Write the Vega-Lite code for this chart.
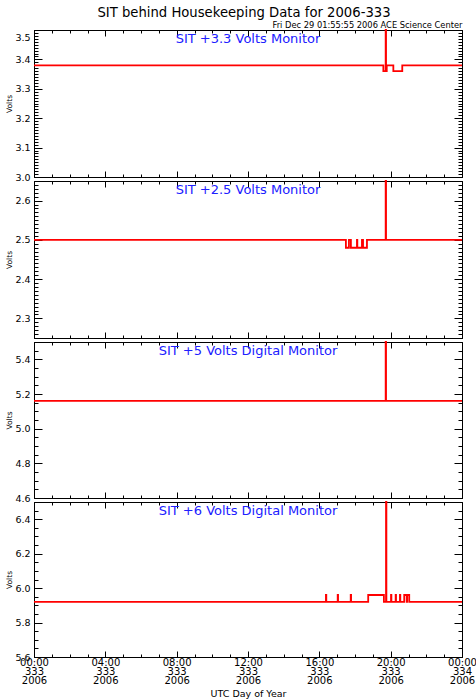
{
  "$schema": "https://vega.github.io/schema/vega-lite/v6.json",
  "background": "white",
  "datasets": {
    "volts": [
      {"p":1,"i":1,"t":0,"v":3.38},{"p":1,"i":2,"t":19.59,"v":3.38},{"p":1,"i":3,"t":19.59,"v":3.36},{"p":1,"i":4,"t":19.72,"v":3.36},{"p":1,"i":5,"t":19.72,"v":3.5},{"p":1,"i":6,"t":19.74,"v":3.5},{"p":1,"i":7,"t":19.74,"v":3.36},{"p":1,"i":8,"t":19.78,"v":3.36},{"p":1,"i":9,"t":19.78,"v":3.38},{"p":1,"i":10,"t":20.15,"v":3.38},{"p":1,"i":11,"t":20.15,"v":3.36},{"p":1,"i":12,"t":20.65,"v":3.36},{"p":1,"i":13,"t":20.65,"v":3.38},{"p":1,"i":14,"t":24,"v":3.38},
      {"p":2,"i":1,"t":0,"v":2.5},{"p":2,"i":2,"t":17.49,"v":2.5},{"p":2,"i":3,"t":17.49,"v":2.48},{"p":2,"i":4,"t":17.66,"v":2.48},{"p":2,"i":5,"t":17.66,"v":2.5},{"p":2,"i":6,"t":17.77,"v":2.5},{"p":2,"i":7,"t":17.77,"v":2.48},{"p":2,"i":8,"t":18.11,"v":2.48},{"p":2,"i":9,"t":18.11,"v":2.5},{"p":2,"i":10,"t":18.13,"v":2.5},{"p":2,"i":11,"t":18.13,"v":2.48},{"p":2,"i":12,"t":18.39,"v":2.48},{"p":2,"i":13,"t":18.39,"v":2.5},{"p":2,"i":14,"t":18.45,"v":2.5},{"p":2,"i":15,"t":18.45,"v":2.48},{"p":2,"i":16,"t":18.67,"v":2.48},{"p":2,"i":17,"t":18.67,"v":2.5},{"p":2,"i":18,"t":19.72,"v":2.5},{"p":2,"i":19,"t":19.72,"v":2.65},{"p":2,"i":20,"t":19.74,"v":2.65},{"p":2,"i":21,"t":19.74,"v":2.5},{"p":2,"i":22,"t":24,"v":2.5},
      {"p":3,"i":1,"t":0,"v":5.16},{"p":3,"i":2,"t":19.72,"v":5.16},{"p":3,"i":3,"t":19.72,"v":5.5},{"p":3,"i":4,"t":19.74,"v":5.5},{"p":3,"i":5,"t":19.74,"v":5.16},{"p":3,"i":6,"t":24,"v":5.16},
      {"p":4,"i":1,"t":0,"v":5.92},{"p":4,"i":2,"t":16.37,"v":5.92},{"p":4,"i":3,"t":16.37,"v":5.96},{"p":4,"i":4,"t":16.39,"v":5.96},{"p":4,"i":5,"t":16.39,"v":5.92},{"p":4,"i":6,"t":17.03,"v":5.92},{"p":4,"i":7,"t":17.03,"v":5.96},{"p":4,"i":8,"t":17.05,"v":5.96},{"p":4,"i":9,"t":17.05,"v":5.92},{"p":4,"i":10,"t":17.76,"v":5.92},{"p":4,"i":11,"t":17.76,"v":5.96},{"p":4,"i":12,"t":17.78,"v":5.96},{"p":4,"i":13,"t":17.78,"v":5.92},{"p":4,"i":14,"t":18.74,"v":5.92},{"p":4,"i":15,"t":18.74,"v":5.96},{"p":4,"i":16,"t":19.62,"v":5.96},{"p":4,"i":17,"t":19.62,"v":5.92},{"p":4,"i":18,"t":19.74,"v":5.92},{"p":4,"i":19,"t":19.74,"v":6.5},{"p":4,"i":20,"t":19.76,"v":6.5},{"p":4,"i":21,"t":19.76,"v":5.92},{"p":4,"i":22,"t":20.02,"v":5.92},{"p":4,"i":23,"t":20.02,"v":5.96},{"p":4,"i":24,"t":20.04,"v":5.96},{"p":4,"i":25,"t":20.04,"v":5.92},{"p":4,"i":26,"t":20.28,"v":5.92},{"p":4,"i":27,"t":20.28,"v":5.96},{"p":4,"i":28,"t":20.3,"v":5.96},{"p":4,"i":29,"t":20.3,"v":5.92},{"p":4,"i":30,"t":20.52,"v":5.92},{"p":4,"i":31,"t":20.52,"v":5.96},{"p":4,"i":32,"t":20.54,"v":5.96},{"p":4,"i":33,"t":20.54,"v":5.92},{"p":4,"i":34,"t":20.76,"v":5.92},{"p":4,"i":35,"t":20.76,"v":5.96},{"p":4,"i":36,"t":20.9,"v":5.96},{"p":4,"i":37,"t":20.9,"v":5.92},{"p":4,"i":38,"t":20.92,"v":5.92},{"p":4,"i":39,"t":20.92,"v":5.96},{"p":4,"i":40,"t":21.04,"v":5.96},{"p":4,"i":41,"t":21.04,"v":5.92},{"p":4,"i":42,"t":24,"v":5.92}
    ],
    "panelnames": [
      {"p":1,"label":"SIT +3.3 Volts Monitor"},
      {"p":2,"label":"SIT +2.5 Volts Monitor"},
      {"p":3,"label":"SIT +5 Volts Digital Monitor"},
      {"p":4,"label":"SIT +6 Volts Digital Monitor"}
    ]
  },
  "config": {
    "view": {"stroke": "black", "strokeWidth": 1},
    "axis": {"domain": false, "grid": false, "ticks": true, "tickColor": "black", "tickWidth": 1, "tickOpacity": 1, "labelColor": "black", "titleColor": "black", "labelFont": "DejaVu Sans", "titleFont": "DejaVu Sans", "titleFontWeight": "normal", "labelFlush": false, "labelOverlap": false, "zindex": 2}
  },
  "bounds": "flush",
  "spacing": 4,
  "vconcat": [
    {
      "width": 428, "height": 147,
      "title": {"text": "SIT behind Housekeeping Data for 2006-333", "font": "DejaVu Sans", "fontSize": 13.2, "fontWeight": "normal", "color": "black", "anchor": "middle", "offset": 0, "dx": -4},
      "layer": [
        {"data": {"name": "volts"}, "transform": [{"filter": "datum.p == 1"}],
         "mark": {"type": "line", "color": "#ff0000", "strokeWidth": 1.8},
         "encoding": {
           "x": {"field": "t", "type": "quantitative", "scale": {"domain": [0, 24], "nice": false, "zero": false}, "axis": {"orient": "bottom", "values": [0,4,8,12,16,20,24], "offset": -6, "tickSize": 6, "labels": false, "title": null}},
           "y": {"field": "v", "type": "quantitative", "scale": {"domain": [3.0, 3.5], "nice": false, "zero": false}, "axis": {"orient": "left", "values": [3.0,3.1,3.2,3.3,3.4,3.5], "offset": -8, "tickSize": 8, "labelPadding": 4, "labelFontSize": 9.5, "format": ".1f", "labelOffset": {"condition": {"test": "datum.value > 3.45", "value": 7}, "value": 0}, "title": "Volts", "titleFontSize": 7.5, "titlePadding": 1}},
           "order": {"field": "i", "type": "quantitative"}
         }},
        {"data": {"name": "panelnames"}, "transform": [{"filter": "datum.p == 1"}],
         "mark": {"type": "text", "color": "#2020ff", "font": "DejaVu Sans", "fontSize": 13, "baseline": "top", "dy": 3},
         "encoding": {
           "text": {"field": "label"},
           "x": {"datum": 12, "type": "quantitative", "scale": {"domain": [0, 24], "nice": false, "zero": false}, "axis": {"orient": "top", "values": [0,4,8,12,16,20,24], "offset": -6, "tickSize": 6, "labels": false, "title": "Fri Dec 29 01:55:55 2006 ACE Science Center", "titleAnchor": "end", "titleFontSize": 8.3, "titlePadding": 0}},
           "y": {"datum": 3.5, "type": "quantitative", "scale": {"domain": [3.0, 3.5], "nice": false, "zero": false}, "axis": {"orient": "right", "values": [3.0,3.1,3.2,3.3,3.4,3.5], "offset": -8, "tickSize": 8, "labels": false, "title": null}}
         }},
        {"mark": {"type": "point", "opacity": 0},
         "encoding": {
           "x": {"datum": 0, "type": "quantitative", "scale": {"domain": [0, 24], "nice": false, "zero": false}, "axis": {"orient": "bottom", "tickCount": 24, "offset": -3, "tickSize": 3, "labels": false, "title": null}},
           "y": {"datum": 3.0, "type": "quantitative", "scale": {"domain": [3.0, 3.5], "nice": false, "zero": false}, "axis": {"orient": "left", "tickCount": 50, "offset": -4, "tickSize": 4, "labels": false, "title": null}}
         }},
        {"mark": {"type": "point", "opacity": 0},
         "encoding": {
           "x": {"datum": 0, "type": "quantitative", "scale": {"domain": [0, 24], "nice": false, "zero": false}, "axis": {"orient": "top", "tickCount": 24, "offset": -3, "tickSize": 3, "labels": false, "title": null}},
           "y": {"datum": 3.0, "type": "quantitative", "scale": {"domain": [3.0, 3.5], "nice": false, "zero": false}, "axis": {"orient": "right", "tickCount": 50, "offset": -4, "tickSize": 4, "labels": false, "title": null}}
         }}
      ],
      "resolve": {"scale": {"x": "independent", "y": "independent"}, "axis": {"x": "independent", "y": "independent"}}
    },
    {
      "width": 428, "height": 157,
      "layer": [
        {"data": {"name": "volts"}, "transform": [{"filter": "datum.p == 2"}],
         "mark": {"type": "line", "color": "#ff0000", "strokeWidth": 1.8},
         "encoding": {
           "x": {"field": "t", "type": "quantitative", "scale": {"domain": [0, 24], "nice": false, "zero": false}, "axis": {"orient": "bottom", "values": [0,4,8,12,16,20,24], "offset": -6, "tickSize": 6, "labels": false, "title": null}},
           "y": {"field": "v", "type": "quantitative", "scale": {"domain": [2.25, 2.65], "nice": false, "zero": false}, "axis": {"orient": "left", "values": [2.3,2.4,2.5,2.6], "offset": -8, "tickSize": 8, "labelPadding": 4, "labelFontSize": 9.5, "format": ".1f", "title": "Volts", "titleFontSize": 7.5, "titlePadding": 1}},
           "order": {"field": "i", "type": "quantitative"}
         }},
        {"data": {"name": "panelnames"}, "transform": [{"filter": "datum.p == 2"}],
         "mark": {"type": "text", "color": "#2020ff", "font": "DejaVu Sans", "fontSize": 13, "baseline": "top", "dy": 3},
         "encoding": {
           "text": {"field": "label"},
           "x": {"datum": 12, "type": "quantitative", "scale": {"domain": [0, 24], "nice": false, "zero": false}, "axis": {"orient": "top", "values": [0,4,8,12,16,20,24], "offset": -6, "tickSize": 6, "labels": false, "title": null}},
           "y": {"datum": 2.65, "type": "quantitative", "scale": {"domain": [2.25, 2.65], "nice": false, "zero": false}, "axis": {"orient": "right", "values": [2.3,2.4,2.5,2.6], "offset": -8, "tickSize": 8, "labels": false, "title": null}}
         }},
        {"mark": {"type": "point", "opacity": 0},
         "encoding": {
           "x": {"datum": 0, "type": "quantitative", "scale": {"domain": [0, 24], "nice": false, "zero": false}, "axis": {"orient": "bottom", "tickCount": 24, "offset": -3, "tickSize": 3, "labels": false, "title": null}},
           "y": {"datum": 2.25, "type": "quantitative", "scale": {"domain": [2.25, 2.65], "nice": false, "zero": false}, "axis": {"orient": "left", "tickCount": 40, "offset": -4, "tickSize": 4, "labels": false, "title": null}}
         }},
        {"mark": {"type": "point", "opacity": 0},
         "encoding": {
           "x": {"datum": 0, "type": "quantitative", "scale": {"domain": [0, 24], "nice": false, "zero": false}, "axis": {"orient": "top", "tickCount": 24, "offset": -3, "tickSize": 3, "labels": false, "title": null}},
           "y": {"datum": 2.25, "type": "quantitative", "scale": {"domain": [2.25, 2.65], "nice": false, "zero": false}, "axis": {"orient": "right", "tickCount": 40, "offset": -4, "tickSize": 4, "labels": false, "title": null}}
         }}
      ],
      "resolve": {"scale": {"x": "independent", "y": "independent"}, "axis": {"x": "independent", "y": "independent"}}
    },
    {
      "width": 428, "height": 156,
      "layer": [
        {"data": {"name": "volts"}, "transform": [{"filter": "datum.p == 3"}],
         "mark": {"type": "line", "color": "#ff0000", "strokeWidth": 1.8},
         "encoding": {
           "x": {"field": "t", "type": "quantitative", "scale": {"domain": [0, 24], "nice": false, "zero": false}, "axis": {"orient": "bottom", "values": [0,4,8,12,16,20,24], "offset": -6, "tickSize": 6, "labels": false, "title": null}},
           "y": {"field": "v", "type": "quantitative", "scale": {"domain": [4.6, 5.5], "nice": false, "zero": false}, "axis": {"orient": "left", "values": [4.6,4.8,5.0,5.2,5.4], "offset": -8, "tickSize": 8, "labelPadding": 4, "labelFontSize": 9.5, "format": ".1f", "title": "Volts", "titleFontSize": 7.5, "titlePadding": 1}},
           "order": {"field": "i", "type": "quantitative"}
         }},
        {"data": {"name": "panelnames"}, "transform": [{"filter": "datum.p == 3"}],
         "mark": {"type": "text", "color": "#2020ff", "font": "DejaVu Sans", "fontSize": 13, "baseline": "top", "dy": 3},
         "encoding": {
           "text": {"field": "label"},
           "x": {"datum": 12, "type": "quantitative", "scale": {"domain": [0, 24], "nice": false, "zero": false}, "axis": {"orient": "top", "values": [0,4,8,12,16,20,24], "offset": -6, "tickSize": 6, "labels": false, "title": null}},
           "y": {"datum": 5.5, "type": "quantitative", "scale": {"domain": [4.6, 5.5], "nice": false, "zero": false}, "axis": {"orient": "right", "values": [4.6,4.8,5.0,5.2,5.4], "offset": -8, "tickSize": 8, "labels": false, "title": null}}
         }},
        {"mark": {"type": "point", "opacity": 0},
         "encoding": {
           "x": {"datum": 0, "type": "quantitative", "scale": {"domain": [0, 24], "nice": false, "zero": false}, "axis": {"orient": "bottom", "tickCount": 24, "offset": -3, "tickSize": 3, "labels": false, "title": null}},
           "y": {"datum": 4.6, "type": "quantitative", "scale": {"domain": [4.6, 5.5], "nice": false, "zero": false}, "axis": {"orient": "left", "tickCount": 18, "offset": -4, "tickSize": 4, "labels": false, "title": null}}
         }},
        {"mark": {"type": "point", "opacity": 0},
         "encoding": {
           "x": {"datum": 0, "type": "quantitative", "scale": {"domain": [0, 24], "nice": false, "zero": false}, "axis": {"orient": "top", "tickCount": 24, "offset": -3, "tickSize": 3, "labels": false, "title": null}},
           "y": {"datum": 4.6, "type": "quantitative", "scale": {"domain": [4.6, 5.5], "nice": false, "zero": false}, "axis": {"orient": "right", "tickCount": 18, "offset": -4, "tickSize": 4, "labels": false, "title": null}}
         }}
      ],
      "resolve": {"scale": {"x": "independent", "y": "independent"}, "axis": {"x": "independent", "y": "independent"}}
    },
    {
      "width": 428, "height": 155,
      "layer": [
        {"data": {"name": "volts"}, "transform": [{"filter": "datum.p == 4"}],
         "mark": {"type": "line", "color": "#ff0000", "strokeWidth": 1.8},
         "encoding": {
           "x": {"field": "t", "type": "quantitative", "scale": {"domain": [0, 24], "nice": false, "zero": false}, "axis": {"orient": "bottom", "values": [0,4,8,12,16,20,24], "offset": -6, "tickSize": 6, "labelPadding": 0, "labelFontSize": 10, "labelLineHeight": 9, "labelExpr": "datum.value == 24 ? ['00:00', '334', '2006'] : [(datum.value < 10 ? '0' : '') + datum.value + ':00', '333', '2006']", "title": "UTC Day of Year", "titleFontSize": 9.5, "titlePadding": 3}},
           "y": {"field": "v", "type": "quantitative", "scale": {"domain": [5.6, 6.5], "nice": false, "zero": false}, "axis": {"orient": "left", "values": [5.6,5.8,6.0,6.2,6.4], "offset": -8, "tickSize": 8, "labelPadding": 4, "labelFontSize": 9.5, "format": ".1f", "title": "Volts", "titleFontSize": 7.5, "titlePadding": 1}},
           "order": {"field": "i", "type": "quantitative"}
         }},
        {"data": {"name": "panelnames"}, "transform": [{"filter": "datum.p == 4"}],
         "mark": {"type": "text", "color": "#2020ff", "font": "DejaVu Sans", "fontSize": 13, "baseline": "top", "dy": 3},
         "encoding": {
           "text": {"field": "label"},
           "x": {"datum": 12, "type": "quantitative", "scale": {"domain": [0, 24], "nice": false, "zero": false}, "axis": {"orient": "top", "values": [0,4,8,12,16,20,24], "offset": -6, "tickSize": 6, "labels": false, "title": null}},
           "y": {"datum": 6.5, "type": "quantitative", "scale": {"domain": [5.6, 6.5], "nice": false, "zero": false}, "axis": {"orient": "right", "values": [5.6,5.8,6.0,6.2,6.4], "offset": -8, "tickSize": 8, "labels": false, "title": null}}
         }},
        {"mark": {"type": "point", "opacity": 0},
         "encoding": {
           "x": {"datum": 0, "type": "quantitative", "scale": {"domain": [0, 24], "nice": false, "zero": false}, "axis": {"orient": "bottom", "tickCount": 24, "offset": -3, "tickSize": 3, "labels": false, "title": null}},
           "y": {"datum": 5.6, "type": "quantitative", "scale": {"domain": [5.6, 6.5], "nice": false, "zero": false}, "axis": {"orient": "left", "tickCount": 18, "offset": -4, "tickSize": 4, "labels": false, "title": null}}
         }},
        {"mark": {"type": "point", "opacity": 0},
         "encoding": {
           "x": {"datum": 0, "type": "quantitative", "scale": {"domain": [0, 24], "nice": false, "zero": false}, "axis": {"orient": "top", "tickCount": 24, "offset": -3, "tickSize": 3, "labels": false, "title": null}},
           "y": {"datum": 5.6, "type": "quantitative", "scale": {"domain": [5.6, 6.5], "nice": false, "zero": false}, "axis": {"orient": "right", "tickCount": 18, "offset": -4, "tickSize": 4, "labels": false, "title": null}}
         }}
      ],
      "resolve": {"scale": {"x": "independent", "y": "independent"}, "axis": {"x": "independent", "y": "independent"}}
    }
  ]
}
